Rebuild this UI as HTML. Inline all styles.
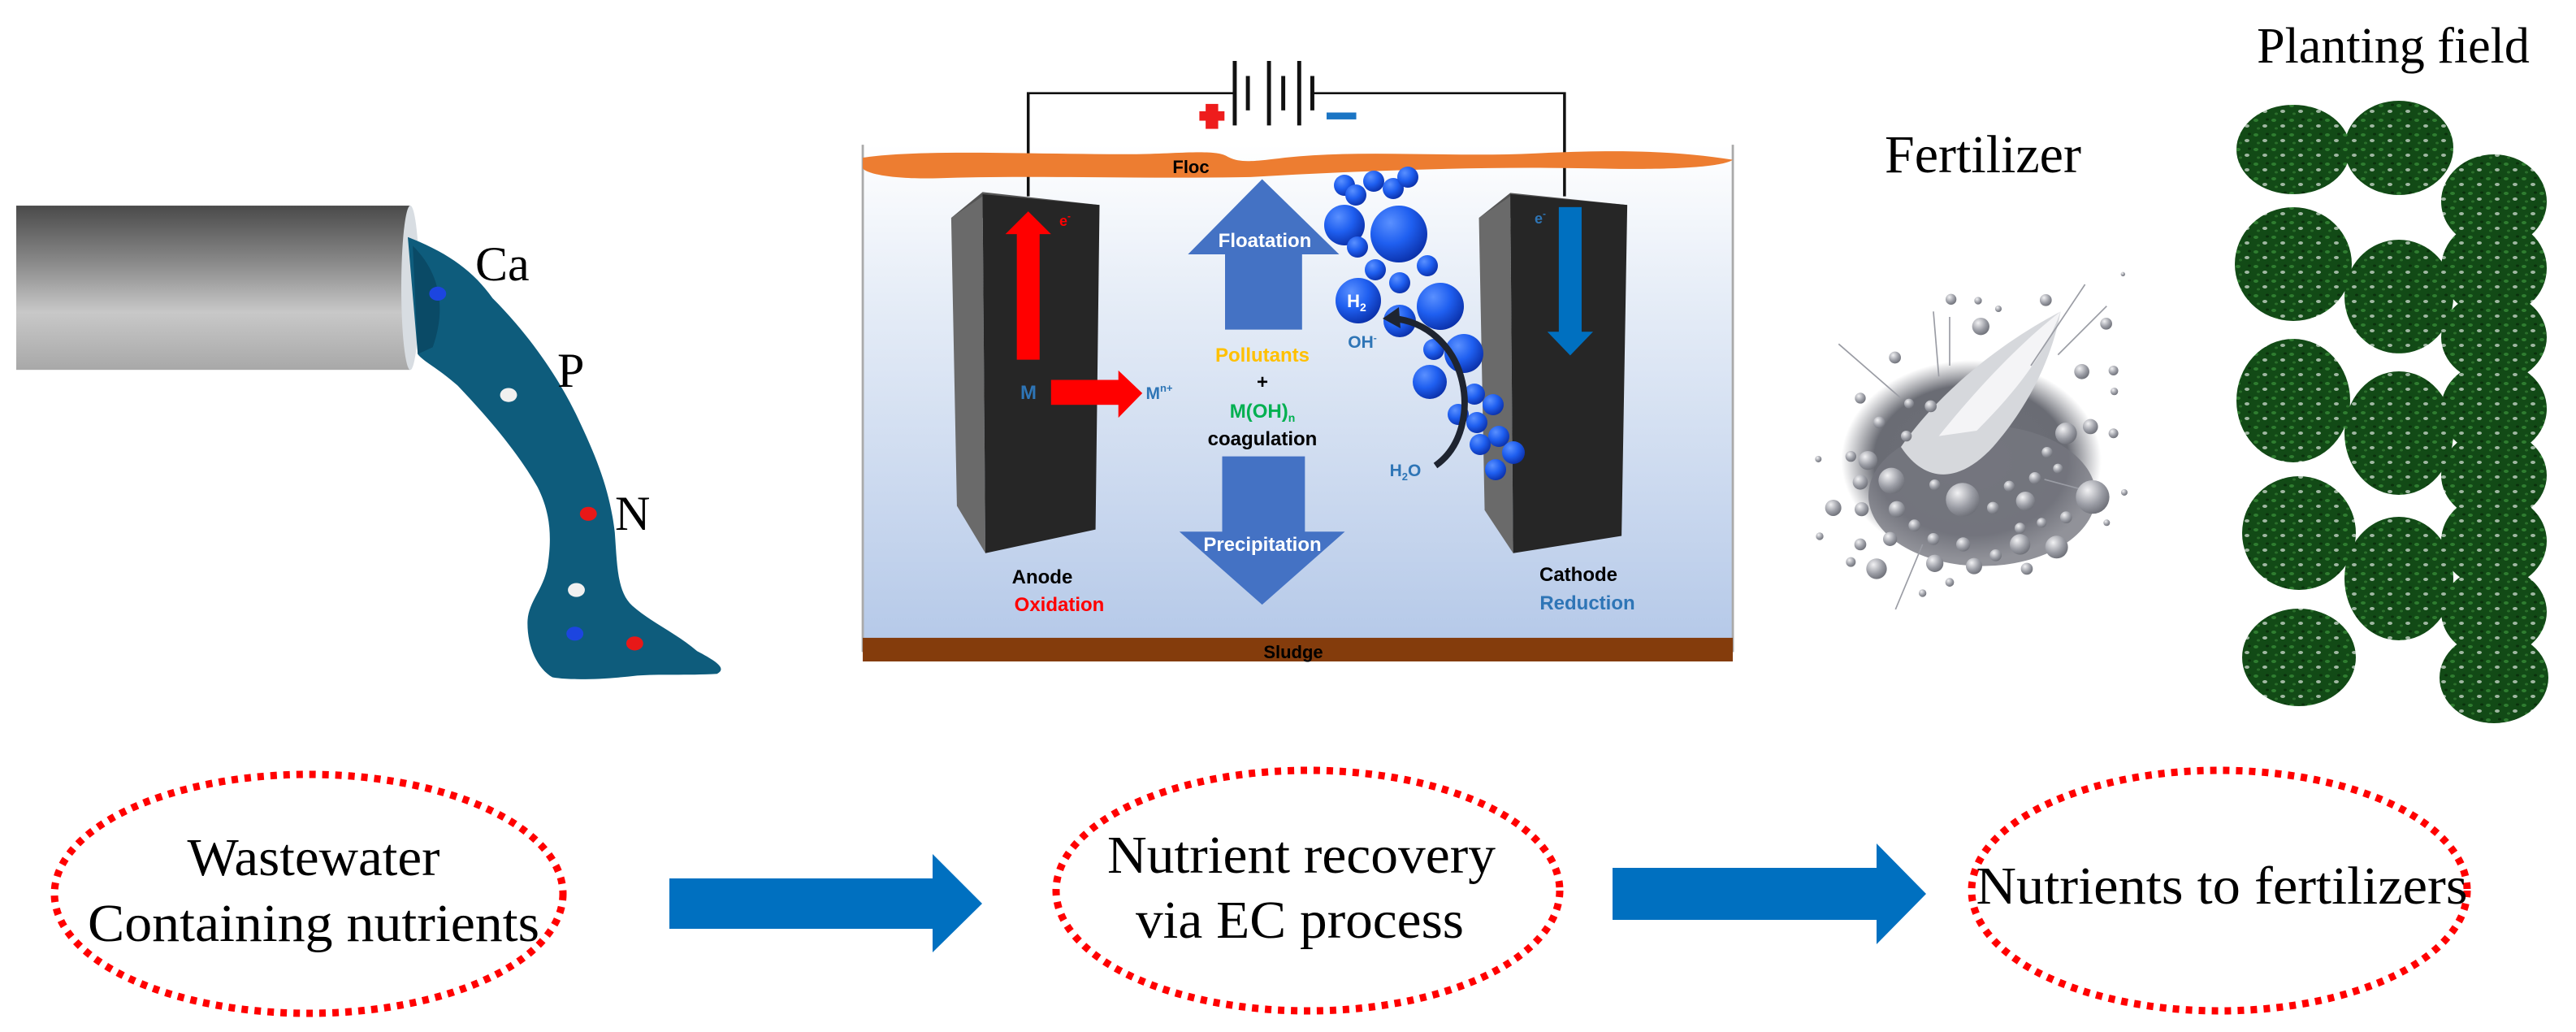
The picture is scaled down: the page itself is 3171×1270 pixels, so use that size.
<!DOCTYPE html>
<html><head><meta charset="utf-8"><style>
html,body{margin:0;padding:0;background:#fff;}
svg{display:block;}
</style></head><body>
<svg width="3171" height="1270" viewBox="0 0 3171 1270" xmlns="http://www.w3.org/2000/svg">
<defs>
<linearGradient id="pipe" x1="0" y1="0" x2="0" y2="1">
<stop offset="0" stop-color="#4a4a4a"/><stop offset="0.35" stop-color="#8a8a8a"/><stop offset="0.65" stop-color="#c8c8c8"/><stop offset="1" stop-color="#a8a8a8"/></linearGradient>
<linearGradient id="water" x1="0" y1="0" x2="0" y2="1">
<stop offset="0" stop-color="#ffffff"/><stop offset="0.3" stop-color="#e6edf7"/><stop offset="1" stop-color="#b4c8e8"/></linearGradient>
<radialGradient id="bub" cx="0.35" cy="0.3" r="0.75">
<stop offset="0" stop-color="#5a90ff"/><stop offset="0.5" stop-color="#1f5ff0"/><stop offset="1" stop-color="#0a2fa8"/></radialGradient>
<radialGradient id="gb" cx="0.35" cy="0.3" r="0.75">
<stop offset="0" stop-color="#f2f2f4"/><stop offset="0.6" stop-color="#9a9ca4"/><stop offset="1" stop-color="#6c6e76"/></radialGradient>
<radialGradient id="cloud" cx="0.5" cy="0.5" r="0.5">
<stop offset="0" stop-color="#6e7078"/><stop offset="0.75" stop-color="#6a6c74"/><stop offset="1" stop-color="#7a7c84" stop-opacity="0"/></radialGradient>
<pattern id="speck" width="22" height="18" patternUnits="userSpaceOnUse">
<rect width="22" height="18" fill="#124a16"/>
<ellipse cx="5" cy="4" rx="3" ry="2" fill="#2f7d30"/>
<ellipse cx="16" cy="11" rx="3" ry="2" fill="#ffffff" opacity="0.6"/>
<ellipse cx="8" cy="14" rx="2" ry="1.5" fill="#2a6e2a"/>
<ellipse cx="19" cy="3" rx="2" ry="1.5" fill="#0a300c"/>
</pattern>
</defs>

<!-- LEFT PANEL -->
<g transform="translate(-1.5,203.6) scale(0.614,0.43)">
<rect x="35" y="115" width="790" height="470" fill="url(#pipe)"/>
<ellipse cx="825" cy="350" rx="18" ry="235" fill="#d8dde2"/>
<path d="M820,205 C900,250 950,300 990,380 C1060,480 1120,600 1160,720 C1200,840 1225,930 1235,1050 C1240,1150 1240,1220 1270,1260 C1310,1310 1360,1340 1400,1390 C1440,1420 1460,1440 1440,1455 C1380,1460 1320,1455 1280,1460 C1220,1470 1150,1475 1110,1465 C1080,1440 1060,1380 1060,1310 C1060,1250 1090,1220 1100,1150 C1110,1060 1105,990 1080,920 C1040,820 980,720 920,630 C880,580 850,560 840,540 Z" fill="#0e5c7c"/>
<path d="M830,230 C880,300 900,400 870,520 L840,540 Z" fill="#0a4a66"/>
<ellipse cx="880" cy="367" rx="17" ry="20" fill="#1c45e0"/>
<ellipse cx="1022" cy="657" rx="17" ry="20" fill="#f0f0f0"/>
<ellipse cx="1182" cy="997" rx="17" ry="20" fill="#e81818"/>
<ellipse cx="1158" cy="1215" rx="17" ry="20" fill="#f0f0f0"/>
<ellipse cx="1155" cy="1340" rx="17" ry="20" fill="#1c45e0"/>
<ellipse cx="1275" cy="1368" rx="17" ry="20" fill="#e81818"/>
</g>
<g font-family="Liberation Serif, serif" font-size="60" fill="#000">
<text x="585" y="345">Ca</text>
<text x="686" y="476">P</text>
<text x="757" y="652">N</text>
</g>

<!-- EC CELL -->
<g transform="translate(1048,-7) scale(0.7023,0.529)">
<rect x="20" y="350" width="1525" height="1180" fill="url(#water)"/>
<line x1="20" y1="350" x2="20" y2="1530" stroke="#aaa" stroke-width="4"/>
<line x1="1545" y1="350" x2="1545" y2="1530" stroke="#aaa" stroke-width="4"/>
<rect x="20" y="1497" width="1525" height="55" fill="#843c0c"/>
<polyline points="310,470 310,230 672,230" fill="none" stroke="#111" stroke-width="5"/>
<polyline points="808,230 1250,230 1250,470" fill="none" stroke="#111" stroke-width="5"/>
<line x1="672" y1="155" x2="672" y2="305" stroke="#111" stroke-width="7"/>
<line x1="695" y1="190" x2="695" y2="270" stroke="#111" stroke-width="7"/>
<line x1="732" y1="155" x2="732" y2="305" stroke="#111" stroke-width="7"/>
<line x1="757" y1="190" x2="757" y2="270" stroke="#111" stroke-width="7"/>
<line x1="785" y1="155" x2="785" y2="305" stroke="#111" stroke-width="7"/>
<line x1="808" y1="190" x2="808" y2="270" stroke="#111" stroke-width="7"/>
<rect x="610" y="272" width="44" height="22" fill="#ee1c1c"/>
<rect x="621" y="255" width="22" height="58" fill="#ee1c1c"/>
<rect x="833" y="275" width="52" height="16" fill="#1b75c4"/>
<path d="M20,380 C120,360 300,372 500,372 C580,370 640,360 660,378 C680,392 700,390 760,380 C900,360 1050,380 1200,370 C1350,360 1450,365 1545,385 C1530,400 1450,410 1300,405 C1100,400 900,410 700,425 C500,430 300,420 150,428 C80,430 30,420 20,405 Z" fill="#ed7d31"/>
<polygon points="175,520 230,460 435,490 380,520" fill="#555"/>
<polygon points="175,520 230,470 235,1300 185,1190" fill="#6a6a6a"/>
<polygon points="230,465 435,490 428,1245 235,1300" fill="#262626"/>
<polygon points="1100,520 1155,462 1360,490 1300,520" fill="#555"/>
<polygon points="1100,520 1155,470 1160,1300 1110,1200" fill="#6a6a6a"/>
<polygon points="1155,465 1360,490 1350,1260 1160,1300" fill="#262626"/>
<rect x="290" y="555" width="40" height="295" fill="#ff0000"/>
<polygon points="270,558 310,505 350,558" fill="#ff0000"/>
<rect x="350" y="897" width="120" height="58" fill="#ff0000"/>
<polygon points="468,875 510,928 468,985" fill="#ff0000"/>
<rect x="1240" y="495" width="40" height="300" fill="#0070c0"/>
<polygon points="1220,785 1300,785 1260,840" fill="#0070c0"/>
<polygon points="720,430 855,605 790,605 790,780 655,780 655,605 590,605" fill="#4472c4"/>
<polygon points="650,1075 795,1075 795,1250 865,1250 720,1420 575,1250 650,1250" fill="#4472c4"/>
</g>
<g fill="url(#bub)">
<circle cx="1655" cy="228" r="13"/><circle cx="1669" cy="240" r="13"/><circle cx="1691" cy="223" r="13"/>
<circle cx="1715" cy="232" r="13"/><circle cx="1733" cy="218" r="13"/><circle cx="1655" cy="277" r="25"/>
<circle cx="1722" cy="288" r="35"/><circle cx="1671" cy="304" r="13"/><circle cx="1693" cy="332" r="13"/>
<circle cx="1757" cy="327" r="13"/><circle cx="1723" cy="348" r="13"/><circle cx="1672" cy="370" r="28"/>
<circle cx="1773" cy="377" r="29"/><circle cx="1723" cy="395" r="20"/><circle cx="1802" cy="435" r="24"/>
<circle cx="1765" cy="430" r="13"/><circle cx="1760" cy="470" r="21"/><circle cx="1815" cy="485" r="13"/>
<circle cx="1838" cy="498" r="13"/><circle cx="1795" cy="510" r="13"/><circle cx="1818" cy="520" r="13"/>
<circle cx="1845" cy="537" r="13"/><circle cx="1822" cy="547" r="13"/><circle cx="1863" cy="557" r="14"/>
<circle cx="1841" cy="578" r="13"/>
</g>
<path d="M1767,573 C1800,550 1808,505 1800,470 C1790,425 1755,395 1715,392" fill="none" stroke="#1e2430" stroke-width="8"/>
<polygon points="1702,392 1722,378 1724,404" fill="#1e2430"/>
<g font-family="Liberation Sans, sans-serif" font-weight="bold" font-size="24" text-anchor="middle">
<text x="1466" y="213" fill="#000" font-size="22">Floc</text>
<text x="1311" y="278" fill="#ff0000" font-size="18">e<tspan font-size="12" dy="-8">-</tspan></text>
<text x="1896" y="275" fill="#2e75b6" font-size="18">e<tspan font-size="12" dy="-8">-</tspan></text>
<text x="1266" y="491" fill="#2e75b6">M</text>
<text x="1427" y="491" fill="#2e75b6" font-size="21">M<tspan font-size="13" dy="-9">n+</tspan></text>
<text x="1557" y="304" fill="#fff">Floatation</text>
<text x="1554" y="445" fill="#ffc000">Pollutants</text>
<text x="1554" y="478" fill="#000">+</text>
<text x="1554" y="514" fill="#00b050">M(OH)<tspan font-size="14" dy="5">n</tspan></text>
<text x="1554" y="548" fill="#000">coagulation</text>
<text x="1554" y="678" fill="#fff">Precipitation</text>
<text x="1283" y="718" fill="#000">Anode</text>
<text x="1304" y="752" fill="#ff0000">Oxidation</text>
<text x="1943" y="715" fill="#000">Cathode</text>
<text x="1954" y="750" fill="#2e75b6">Reduction</text>
<text x="1670" y="378" fill="#fff" font-size="22">H<tspan font-size="14" dy="5">2</tspan></text>
<text x="1677" y="428" fill="#2e75b6" font-size="21">OH<tspan font-size="12" dy="-8">-</tspan></text>
<text x="1730" y="586" fill="#2e75b6" font-size="21">H<tspan font-size="13" dy="5">2</tspan><tspan dy="-5">O</tspan></text>
<text x="1592" y="810" fill="#000" font-size="22">Sludge</text>
</g>

<!-- FERTILIZER -->
<text x="2441" y="212" font-family="Liberation Serif, serif" font-size="66" text-anchor="middle">Fertilizer</text>
<g transform="translate(2200,250) scale(0.3333)">
<ellipse cx="680" cy="950" rx="480" ry="370" fill="url(#cloud)"/>
<ellipse cx="720" cy="1080" rx="420" ry="260" fill="#75777f" opacity="0.8"/>
<path d="M420,900 C560,700 780,520 1010,400 C980,560 900,740 760,900 C650,1020 520,1050 420,900 Z" fill="#d6d8dc"/>
<path d="M560,860 C720,660 880,500 1010,400 C960,540 860,680 700,840 Z" fill="#f4f4f6"/>
<g stroke="#9a9ca4" stroke-width="5">
<line x1="190" y1="520" x2="420" y2="720"/><line x1="540" y1="400" x2="560" y2="640"/>
<line x1="600" y1="420" x2="600" y2="600"/><line x1="1000" y1="560" x2="1180" y2="380"/>
<line x1="1100" y1="300" x2="900" y2="600"/><line x1="950" y1="1020" x2="1100" y2="1060"/>
<line x1="400" y1="1500" x2="500" y2="1260"/>
</g>
<g fill="url(#gb)">
<circle cx="955" cy="358" r="22"/><circle cx="715" cy="455" r="32"/><circle cx="1178" cy="445" r="22"/>
<circle cx="398" cy="570" r="22"/><circle cx="1088" cy="622" r="28"/><circle cx="1205" cy="618" r="18"/>
<circle cx="270" cy="720" r="20"/><circle cx="340" cy="810" r="22"/><circle cx="1030" cy="850" r="40"/>
<circle cx="1120" cy="825" r="28"/><circle cx="1205" cy="850" r="18"/><circle cx="298" cy="950" r="35"/>
<circle cx="235" cy="935" r="20"/><circle cx="385" cy="1025" r="48"/><circle cx="270" cy="1030" r="28"/>
<circle cx="648" cy="1095" r="62"/><circle cx="880" cy="1100" r="35"/><circle cx="1128" cy="1085" r="62"/>
<circle cx="170" cy="1125" r="30"/><circle cx="275" cy="1130" r="26"/><circle cx="405" cy="1130" r="30"/>
<circle cx="470" cy="1190" r="22"/><circle cx="545" cy="1040" r="20"/><circle cx="760" cy="1125" r="22"/>
<circle cx="820" cy="1045" r="20"/><circle cx="915" cy="1015" r="22"/><circle cx="995" cy="1270" r="42"/>
<circle cx="860" cy="1260" r="38"/><circle cx="650" cy="1260" r="26"/><circle cx="540" cy="1240" r="22"/>
<circle cx="380" cy="1240" r="26"/><circle cx="270" cy="1260" r="22"/><circle cx="330" cy="1350" r="38"/>
<circle cx="545" cy="1330" r="32"/><circle cx="690" cy="1340" r="30"/><circle cx="770" cy="1300" r="22"/>
<circle cx="885" cy="1350" r="22"/><circle cx="235" cy="1325" r="18"/><circle cx="1030" cy="1160" r="22"/>
<circle cx="600" cy="1400" r="16"/><circle cx="500" cy="1440" r="14"/><circle cx="120" cy="1230" r="14"/>
<circle cx="115" cy="945" r="12"/><circle cx="1245" cy="1068" r="12"/><circle cx="1180" cy="1180" r="12"/>
<circle cx="1208" cy="695" r="14"/><circle cx="860" cy="1200" r="20"/><circle cx="940" cy="1180" r="18"/>
<circle cx="450" cy="740" r="18"/><circle cx="530" cy="750" r="22"/><circle cx="440" cy="860" r="20"/>
<circle cx="960" cy="920" r="20"/><circle cx="1000" cy="980" r="18"/><circle cx="605" cy="355" r="20"/>
<circle cx="780" cy="390" r="12"/><circle cx="705" cy="360" r="14"/><circle cx="1240" cy="262" r="8"/>
</g>
</g>

<!-- PLANTING FIELD -->
<text x="2946" y="77" font-family="Liberation Serif, serif" font-size="62" text-anchor="middle">Planting field</text>
<g fill="url(#speck)">
<ellipse cx="2823" cy="184" rx="70" ry="55"/><ellipse cx="2953" cy="182" rx="67" ry="58"/>
<ellipse cx="3070" cy="248" rx="65" ry="58"/>
<ellipse cx="2823" cy="325" rx="72" ry="70"/><ellipse cx="2953" cy="365" rx="67" ry="70"/>
<ellipse cx="3070" cy="330" rx="65" ry="60"/><ellipse cx="3070" cy="415" rx="65" ry="56"/>
<ellipse cx="2823" cy="493" rx="70" ry="76"/><ellipse cx="2953" cy="533" rx="67" ry="76"/>
<ellipse cx="3070" cy="503" rx="65" ry="58"/><ellipse cx="3070" cy="585" rx="65" ry="56"/>
<ellipse cx="2830" cy="656" rx="70" ry="70"/><ellipse cx="2953" cy="712" rx="67" ry="76"/>
<ellipse cx="3070" cy="666" rx="65" ry="58"/><ellipse cx="3070" cy="753" rx="65" ry="56"/>
<ellipse cx="2830" cy="809" rx="70" ry="60"/><ellipse cx="3070" cy="834" rx="67" ry="56"/>
</g>

<!-- BOTTOM FLOW -->
<g fill="none" stroke="#ff0000" stroke-width="9" stroke-dasharray="8 8">
<ellipse cx="380" cy="1100" rx="313" ry="147"/>
<ellipse cx="1610" cy="1096" rx="310" ry="148"/>
<ellipse cx="2732" cy="1096" rx="305" ry="148"/>
</g>
<polygon points="824,1081 1148,1081 1148,1051 1209,1112 1148,1172 1148,1143 824,1143" fill="#0070c0"/>
<polygon points="1985,1068 2310,1068 2310,1038 2371,1100 2310,1162 2310,1132 1985,1132" fill="#0070c0"/>
<g font-family="Liberation Serif, serif" font-size="66" fill="#000" text-anchor="middle">
<text x="386" y="1077" textLength="311" lengthAdjust="spacingAndGlyphs">Wastewater</text>
<text x="386" y="1158" textLength="556" lengthAdjust="spacingAndGlyphs">Containing nutrients</text>
<text x="1602" y="1074" textLength="478" lengthAdjust="spacingAndGlyphs">Nutrient recovery</text>
<text x="1600" y="1154" textLength="404" lengthAdjust="spacingAndGlyphs">via EC process</text>
<text x="2735" y="1112" textLength="605" lengthAdjust="spacingAndGlyphs">Nutrients to fertilizers</text>
</g>
</svg>
</body></html>
